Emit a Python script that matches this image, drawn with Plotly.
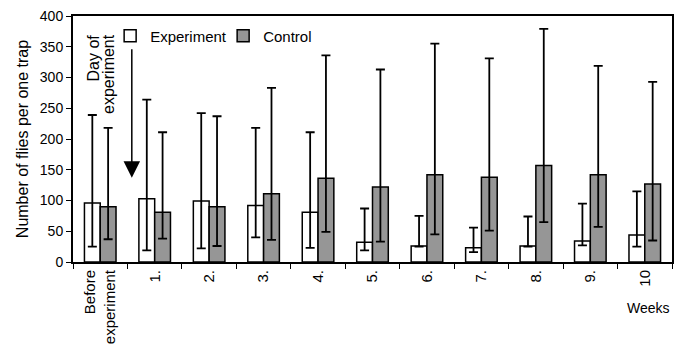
import plotly.graph_objects as go

categories = ["Before<br>experiment", "1.", "2.", "3.", "4.", "5.", "6.", "7.", "8.", "9.", "10"]

exp_mean = [96, 103, 99, 92, 81, 32, 26, 23, 26, 34, 44]
exp_upper = [239, 264, 242, 218, 211, 87, 75, 56, 74, 95, 115]
exp_lower = [25, 19, 22, 40, 23, 19, 25, 16, 25, 27, 25]

ctrl_mean = [90, 81, 90, 111, 136, 122, 142, 138, 157, 142, 127]
ctrl_upper = [218, 211, 237, 283, 336, 313, 355, 331, 379, 319, 293]
ctrl_lower = [37, 38, 26, 36, 49, 33, 45, 51, 65, 57, 35]

y_ticks = [0, 50, 100, 150, 200, 250, 300, 350, 400]

FONT = "Liberation Sans, Arial, sans-serif"


def err(mean, up, lo):
    return dict(type="data", symmetric=False,
                array=[u - m for u, m in zip(up, mean)],
                arrayminus=[m - l for m, l in zip(mean, lo)],
                color="black", thickness=1.8, width=4.5)


fig = go.Figure()
fig.add_trace(go.Bar(name="Experiment", x=categories, y=exp_mean,
                     marker=dict(color="white", line=dict(color="black", width=1.5)),
                     error_y=err(exp_mean, exp_upper, exp_lower)))
fig.add_trace(go.Bar(name="Control", x=categories, y=ctrl_mean,
                     marker=dict(color="#969696", line=dict(color="black", width=1.5)),
                     error_y=err(ctrl_mean, ctrl_upper, ctrl_lower)))

fig.update_layout(
    width=674, height=353,
    margin=dict(l=73, r=2, t=16, b=91, autoexpand=False),
    paper_bgcolor="white", plot_bgcolor="white",
    barmode="group", bargap=0.42, bargroupgap=0,
    font=dict(family=FONT, color="black", size=14),
    showlegend=True,
    legend=dict(orientation="h", x=0.062, y=0.919, xanchor="left", yanchor="middle",
                font=dict(size=15, family=FONT), bgcolor="rgba(0,0,0,0)",
                traceorder="normal", entrywidth=68, entrywidthmode="pixels"),
    xaxis=dict(type="category", tickson="boundaries", ticks="outside", ticklen=5,
               tickwidth=1, tickcolor="black", showline=True, linecolor="black",
               linewidth=2, mirror=True, tickangle=-90, showgrid=False,
               tickfont=dict(size=15, family=FONT), automargin=False),
    yaxis=dict(range=[0, 400], tickvals=y_ticks, ticks="outside", ticklen=5,
               tickwidth=1, tickcolor="black", showline=True, linecolor="black",
               linewidth=2, mirror=True, showgrid=False, zeroline=False,
               tickfont=dict(size=14, family=FONT), automargin=False,
               title=dict(text="Number of flies per one trap", standoff=7,
                          font=dict(size=16, family=FONT))),
)

# Day of experiment label (two rotated lines) and arrow
fig.add_annotation(x=-0.115, y=374, xref="x", yref="y", text="Day of", textangle=-90,
                   showarrow=False, xanchor="center", yanchor="top",
                   font=dict(size=16, family=FONT))
fig.add_annotation(x=0.16, y=374, xref="x", yref="y", text="experiment", textangle=-90,
                   showarrow=False, xanchor="center", yanchor="top",
                   font=dict(size=16, family=FONT))
fig.add_annotation(x=0.58, y=137, xref="x", yref="y", ax=0, ay=-130,
                   axref="pixel", ayref="pixel", text="", showarrow=True,
                   arrowhead=2, arrowsize=2.2, arrowwidth=1.5, arrowcolor="black")

fig.add_annotation(x=1, y=-0.187, xref="paper", yref="paper", text="Weeks",
                   showarrow=False, xanchor="right", yanchor="middle",
                   font=dict(size=14, family=FONT))

fig.write_html("out.html")
